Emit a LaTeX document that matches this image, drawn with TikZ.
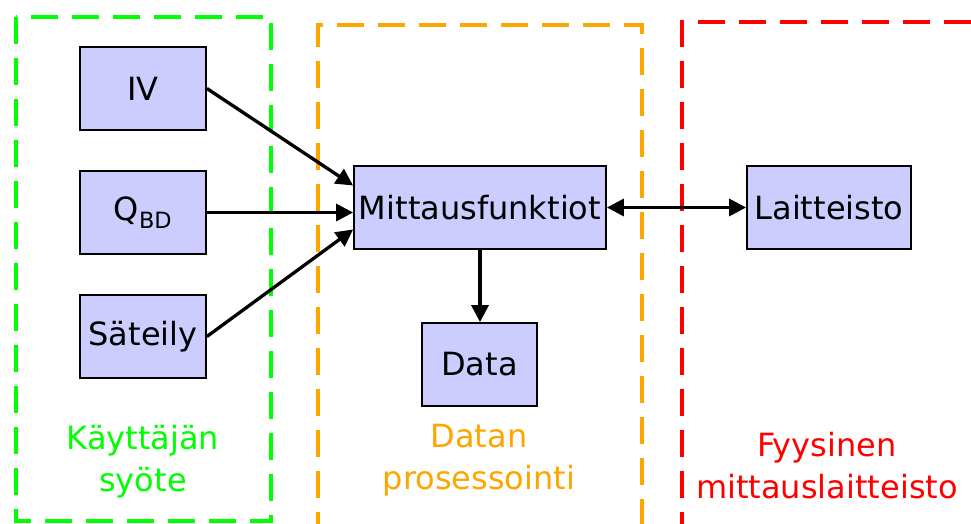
\documentclass[tikz,border=0pt]{standalone}
\usepackage{fontspec}
\setmainfont{DejaVu Sans}
\usetikzlibrary{arrows.meta}
\definecolor{boxfill}{HTML}{CCCCFF}
\definecolor{ingreen}{HTML}{00FF00}
\definecolor{procorange}{HTML}{FFA500}
\definecolor{hwred}{HTML}{FF0000}
\tikzset{tip/.tip={Triangle[length=17pt,width=17pt]}}
\begin{document}
\begin{tikzpicture}[x=1pt,y=1pt,
  block/.style={draw=black,line width=1.8pt,fill=boxfill,minimum height=83pt,
    inner sep=0pt,font=\fontsize{32}{38}\selectfont},
  region/.style={line width=3.5pt,dash pattern=on 27pt off 14pt},
  flow/.style={line width=3.3pt,-tip},
  caption/.style={align=center,font=\fontsize{32}{42}\selectfont}]
\useasboundingbox (0,0) rectangle (971,-524);
\clip (0,0) rectangle (971,-524);
\fill[white] (0,0) rectangle (971,-524);

% Region frames
\draw[region,ingreen] (16,-17) rectangle (271,-521);
\draw[region,procorange] (318,-580) -- (318,-25) -- (642,-25) -- (642,-580);
\draw[region,hwred] (682,-580) -- (682,-22) -- (1020,-22);

% Region captions
\node[caption,text=ingreen] (capin) at (143,-462) {Käyttäjän\\syöte};
\node[caption,text=procorange] (capproc) at (479,-460) {Datan\\prosessointi};
\node[caption,text=hwred] (caphw) at (827,-466) {Fyysinen\\mittauslaitteisto};

% Blocks
\node[block,minimum width=126pt] (iv) at (143,-88.5) {IV};
\node[block,minimum width=126pt] (qbd) at (143,-212.5) {Q\textsubscript{BD}};
\node[block,minimum width=126pt] (sat) at (143,-336.5) {Säteily};
\node[block,minimum width=252pt] (mf) at (480,-207.5) {Mittausfunktiot};
\node[block,minimum width=115pt] (data) at (479.5,-364.5) {Data};
\node[block,minimum width=164pt] (hw) at (829,-207.5) {Laitteisto};

% Connectors
\draw[flow] (iv.east) -- ([yshift=22pt]mf.west);
\draw[flow] (qbd.east) -- (qbd.east -| mf.west);
\draw[flow] (sat.east) -- ([yshift=-22pt]mf.west);
\draw[flow] (mf.south) -- (mf.south |- data.north);
\draw[line width=3.3pt,tip-tip] (mf.east) -- (hw.west);
\end{tikzpicture}
\end{document}
